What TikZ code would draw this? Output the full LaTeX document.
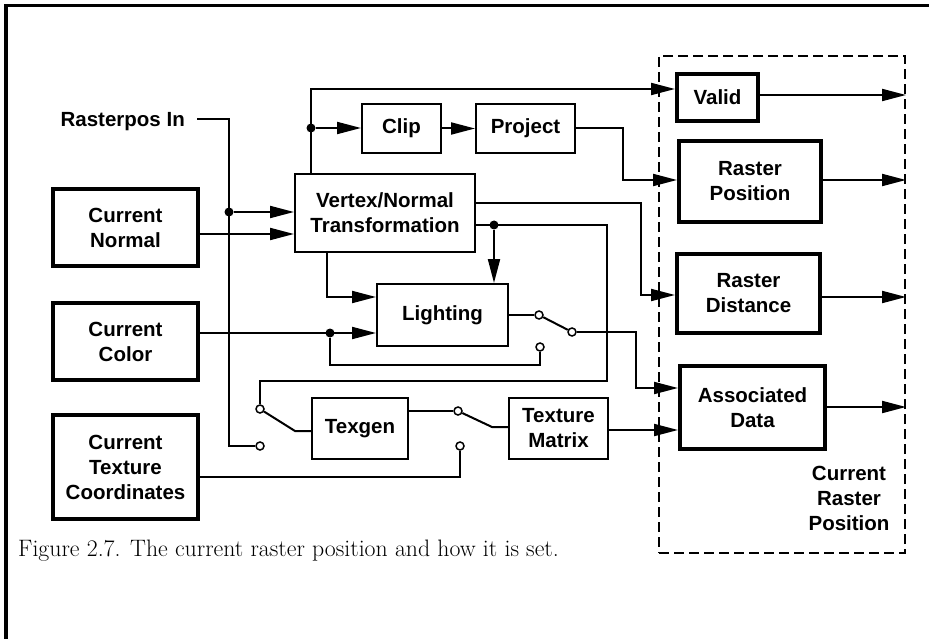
\documentclass[tikz,border=0pt]{standalone}
\usepackage{fontspec}
\newfontfamily\arialb{Liberation Sans}
\usetikzlibrary{arrows.meta}
\newcommand\boxfont{\arialb\bfseries\fontsize{20.5}{25}\selectfont}
\newcommand\capfont{\fontsize{23.8}{28}\selectfont}
\begin{document}
\begin{tikzpicture}[x=1pt,y=-1pt,
  conn/.style={line width=2pt},
  arr/.style={conn,-{Triangle[length=24pt,width=12pt]}},
  thinbox/.style={draw,line width=2pt,font=\boxfont,align=center,inner sep=0pt},
  thickbox/.style={draw,line width=4pt,font=\boxfont,align=center,inner sep=0pt},
  lbl/.style={font=\boxfont,align=center,inner sep=0pt},
  dot/.style={circle,fill,inner sep=0pt,minimum size=9pt},
  swc/.style={circle,draw,fill=white,line width=1.5pt,inner sep=0pt,minimum size=8pt},
  grp/.style={draw,line width=2pt,dash pattern=on 10pt off 5pt,inner sep=0pt},
]
\useasboundingbox (0,0) rectangle (929,639);
% frame
\draw[line width=3.5pt] (6,639) -- (6,5.5) -- (929,5.5);

% group box
\node[grp,minimum width=246pt,minimum height=497pt] (crp) at (782,304.5) {};
\node[lbl] (crplbl) at (849,498) {Current\\Raster\\Position};

% boxes
\node[thickbox,minimum width=145pt,minimum height=77pt] (cn) at (125.5,227.5) {Current\\Normal};
\node[thickbox,minimum width=145pt,minimum height=77pt] (cc) at (125.5,341.5) {Current\\Color};
\node[thickbox,minimum width=145pt,minimum height=104pt] (ctc) at (125.5,467) {Current\\Texture\\Coordinates};
\node[thinbox,minimum width=180pt,minimum height=78pt] (vnt) at (385,213) {Vertex/Normal\\Transformation};
\node[thinbox,minimum width=79pt,minimum height=49pt] (clip) at (401.5,128.5) {Clip};
\node[thinbox,minimum width=99pt,minimum height=49pt] (proj) at (525.5,128.5) {Project};
\node[thinbox,minimum width=131pt,minimum height=62pt] (light) at (442.5,315) {Lighting};
\node[thinbox,minimum width=96pt,minimum height=61pt] (texgen) at (360,428.5) {Texgen};
\node[thinbox,minimum width=99pt,minimum height=61pt] (texmat) at (558.5,428.5) {Texture\\Matrix};
\node[thickbox,minimum width=81pt,minimum height=47pt] (valid) at (717.5,97.5) {Valid};
\node[thickbox,minimum width=142pt,minimum height=81pt] (rpos) at (750,181.5) {Raster\\Position};
\node[thickbox,minimum width=143pt,minimum height=79pt] (rdist) at (748.5,293.5) {Raster\\Distance};
\node[thickbox,minimum width=145pt,minimum height=83pt] (adata) at (752.5,407.5) {Associated\\Data};

% label
\node[lbl,anchor=base east] (rpin) at (185,126.5) {Rasterpos In};
\coordinate (rpa) at (197,119);

% dots
\node[dot] (d1) at (229,212) {};
\node[dot] (d2) at (311,128) {};
\node[dot] (d3) at (494,225) {};
\node[dot] (d4) at (330,333) {};

% switch contacts
\node[swc] (s1a) at (260,409) {};
\node[swc] (s1b) at (260,446) {};
\node[swc] (s2a) at (539,315) {};
\node[swc] (s2b) at (572,332) {};
\node[swc] (s2c) at (540,347) {};
\node[swc] (s3a) at (458,411) {};
\node[swc] (s3b) at (460,446) {};

% connectors
\draw[conn] (rpa) -- (229,119) |- (s1b.west);
\draw[arr] (d1) -- (d1 -| vnt.west);
\draw[arr] (cn.east |- 0,234) -- (vnt.west |- 0,234);
\draw[arr] (vnt.north -| 311,0) |- (valid.west |- 0,89);
\draw[arr] (d2) -- (clip.west |- d2);
\draw[arr] (clip.east) -- (proj.west);
\draw[arr] (proj.east) -- (623,128.5) |- (rpos.west |- 0,180);
\draw[arr] (vnt.east |- 0,203) -- (641,203) |- (rdist.west |- 0,295);
\draw[conn] (vnt.east |- 0,225) -- (607,225) -- (607,381) -| (s1a.north);
\draw[arr] (d3) -- (d3 |- light.north);
\draw[arr] (vnt.south -| 327,0) |- (light.west |- 0,297);
\draw[arr] (cc.east |- 0,333) -- (light.west |- 0,333);
\draw[conn] (d4) -- (330,365) -| (s2c.south);
\draw[conn] (light.east |- 0,315) -- (s2a.west);
\draw[conn] (s2a) -- (s2b);
\draw[arr] (s2b.east) -- (636,332) |- (adata.west |- 0,388);
\draw[conn] (s1a) -- (295,431) -- (texgen.west |- 0,431);
\draw[conn] (texgen.east |- 0,411) -- (s3a.west);
\draw[conn] (s3a) -- (492,427) -- (texmat.west |- 0,427);
\draw[conn] (s3b.south) |- (ctc.east |- 0,477);
\draw[arr] (texmat.east |- 0,430) -- (adata.west |- 0,430);

% outputs
\draw[arr] (valid.east |- 0,95) -- (crp.east |- 0,95);
\draw[arr] (rpos.east |- 0,180) -- (crp.east |- 0,180);
\draw[arr] (rdist.east |- 0,297) -- (crp.east |- 0,297);
\draw[arr] (adata.east |- 0,407) -- (crp.east |- 0,407);

% caption
\node[anchor=base west,inner sep=0pt,font=\capfont] (cap) at (18,556) {Figure 2.7. The current raster position and how it is set.};
\end{tikzpicture}
\end{document}
